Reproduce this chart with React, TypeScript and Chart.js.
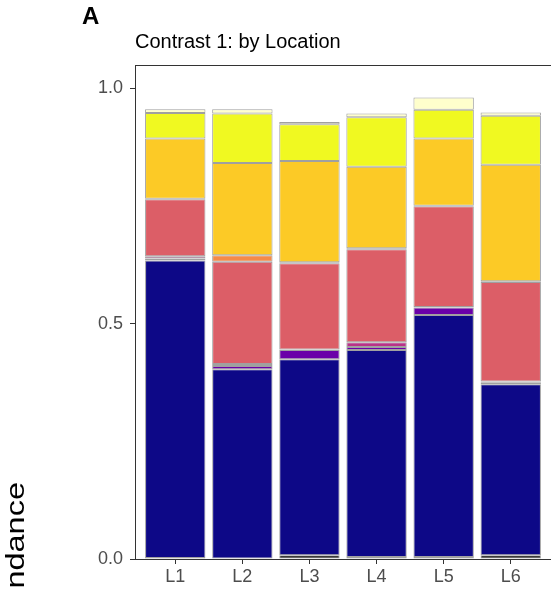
import React, { useEffect, useRef } from 'react';
import { Chart, registerables } from 'chart.js';

Chart.register(...registerables);

const categories = ['L1', 'L2', 'L3', 'L4', 'L5', 'L6'];
const yTicks = [0, 0.5, 1.0];

const taxonNames = ['T1', 'T2', 'T3', 'T4', 'T5', 'T6', 'T7', 'T8', 'T9'];
const taxonColors = ['#000000', '#0D0887', '#6A00A8', '#B83289', '#DC5E67', '#F48A4A', '#FCCA26', '#F0F921', '#FFFFCC'];

const t1Vals = [0.002, 0.0, 0.008, 0.004, 0.004, 0.008];
const t2Vals = [0.632, 0.403, 0.416, 0.44, 0.514, 0.363];
const t3Vals = [0.004, 0.007, 0.02, 0.006, 0.016, 0.003];
const t4Vals = [0.005, 0.004, 0.001, 0.01, 0.001, 0.003];
const t5Vals = [0.121, 0.217, 0.183, 0.198, 0.214, 0.211];
const t6Vals = [0.001, 0.014, 0.002, 0.002, 0.001, 0.002];
const t7Vals = [0.128, 0.196, 0.215, 0.173, 0.143, 0.247];
const t8Vals = [0.054, 0.105, 0.078, 0.105, 0.061, 0.104];
const t9Vals = [0.008, 0.009, 0.005, 0.008, 0.026, 0.007];

const seriesVals = [t1Vals, t2Vals, t3Vals, t4Vals, t5Vals, t6Vals, t7Vals, t8Vals, t9Vals];

const FONT = '"Liberation Sans", Arial, Helvetica, sans-serif';

const textPlugin = {
  id: 'textPlugin',
  afterDraw(chart: any) {
    const ctx = chart.ctx as CanvasRenderingContext2D;
    const area = chart.chartArea;
    ctx.save();
    ctx.strokeStyle = '#333333';
    ctx.lineWidth = 1;
    ctx.beginPath();
    ctx.moveTo(area.left, area.top + 0.5);
    ctx.lineTo(area.right, area.top + 0.5);
    ctx.stroke();

    ctx.fillStyle = '#000000';
    ctx.textAlign = 'left';
    ctx.textBaseline = 'alphabetic';
    ctx.font = `bold 24px ${FONT}`;
    ctx.fillText('A', 82, 24);
    ctx.font = `20px ${FONT}`;
    ctx.fillText('Contrast 1: by Location', 135, 48);

    ctx.translate(24, 482);
    ctx.rotate(-Math.PI / 2);
    ctx.scale(1.25, 1);
    ctx.textAlign = 'right';
    ctx.font = `26px ${FONT}`;
    ctx.fillText('Relative abundance', 0, 0);
    ctx.restore();
  },
};

export default function App() {
  const ref = useRef<HTMLCanvasElement>(null);
  useEffect(() => {
    if (!ref.current) return;
    const datasets = seriesVals.map((vals, k) => ({
      label: taxonNames[k],
      data: vals.map((v, i) => ({ x: i + 1, y: v })),
      backgroundColor: taxonColors[k],
      borderColor: '#A0A0A0',
      borderWidth: 1,
      borderSkipped: false,
      barPercentage: 0.9,
      categoryPercentage: 1.0,
    }));
    const chart = new Chart(ref.current, {
      type: 'bar',
      data: { datasets: datasets as any },
      plugins: [textPlugin],
      options: {
        animation: false,
        responsive: false,
        maintainAspectRatio: false,
        layout: { padding: { top: 65, left: 0, right: 0, bottom: 0 } },
        plugins: { legend: { display: false }, tooltip: { enabled: false }, title: { display: false } },
        scales: {
          x: {
            type: 'linear',
            stacked: true,
            min: 0.4,
            max: 6.6,
            offset: false,
            afterBuildTicks: (scale: any) => {
              scale.ticks = categories.map((_, i) => ({ value: i + 1 }));
            },
            afterFit: (scale: any) => {
              scale.height = 30;
            },
            ticks: {
              autoSkip: false,
              maxRotation: 0,
              font: { family: FONT, size: 18 },
              color: '#4D4D4D',
              padding: 2,
              callback: (v: any) => categories[Math.round(Number(v)) - 1] ?? '',
            },
            grid: { offset: false, drawOnChartArea: false, drawTicks: true, tickLength: 5, color: '#333333' },
            border: { display: true, color: '#333333', width: 1 },
          },
          y: {
            type: 'linear',
            stacked: true,
            min: 0,
            max: 1.049,
            afterBuildTicks: (scale: any) => {
              scale.ticks = yTicks.map((v) => ({ value: v }));
            },
            afterFit: (scale: any) => {
              scale.width = 135;
            },
            ticks: {
              font: { family: FONT, size: 18 },
              color: '#4D4D4D',
              padding: 7,
              callback: (v: any) => Number(v).toFixed(1),
            },
            grid: { drawOnChartArea: false, drawTicks: true, tickLength: 5, color: '#333333' },
            border: { display: true, color: '#333333', width: 1 },
          },
        },
      },
    });
    return () => chart.destroy();
  }, []);
  return (
    <div style={{ position: 'absolute', left: 0, top: 0, width: 551, height: 589, background: '#ffffff' }}>
      <canvas ref={ref} width={551} height={589} style={{ width: 551, height: 589 }} />
    </div>
  );
}
